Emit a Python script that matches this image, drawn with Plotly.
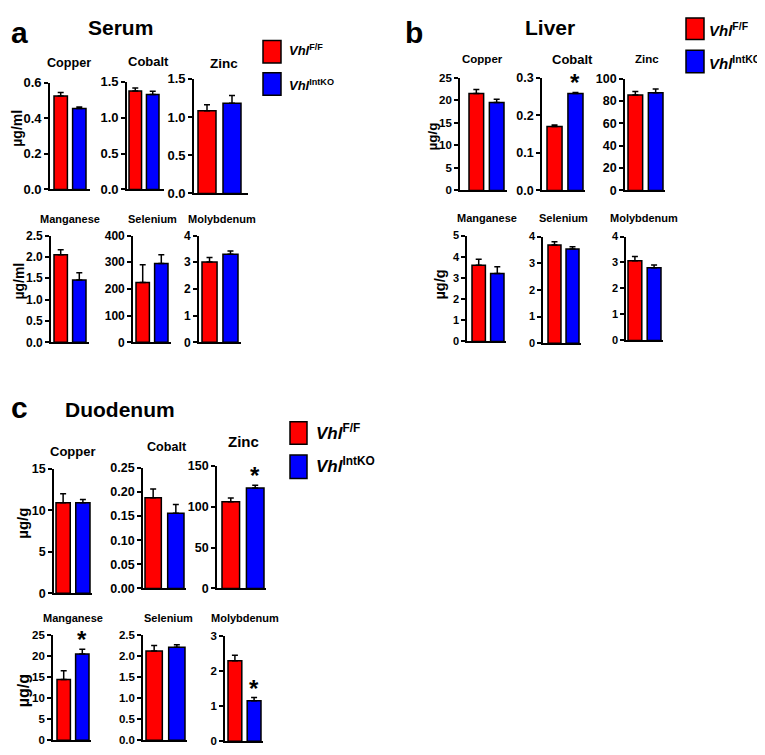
import plotly.graph_objects as go

W, H = 765, 755
OFF = 8  # the html page body has an 8px margin; reference pixels are shifted by it
FONT = "Liberation Sans, Arial, Helvetica, sans-serif"
RED, BLUE = "#ff0000", "#0000ff"
BW = 0.72

# ---------------- data ----------------
elements = ["Copper", "Cobalt", "Zinc", "Manganese", "Selenium", "Molybdenum"]
group_labels = ["<i>Vhl</i><sup>F/F</sup>", "<i>Vhl</i><sup>IntKO</sup>"]

serum_ff = [0.525, 1.37, 1.08, 2.05, 224, 3.01]
serum_ff_err = [0.02, 0.04, 0.08, 0.12, 67, 0.17]
serum_ko = [0.455, 1.32, 1.18, 1.46, 295, 3.30]
serum_ko_err = [0.008, 0.045, 0.10, 0.17, 33, 0.12]

liver_ff = [21.5, 0.170, 85.5, 3.60, 3.68, 3.07]
liver_ff_err = [0.9, 0.004, 3.0, 0.28, 0.12, 0.16]
liver_ko = [19.5, 0.258, 87.5, 3.21, 3.53, 2.80]
liver_ko_err = [0.75, 0.003, 3.2, 0.31, 0.09, 0.10]

duo_ff = [10.9, 0.188, 106, 14.5, 2.13, 2.30]
duo_ff_err = [1.1, 0.018, 4.5, 2.1, 0.13, 0.16]
duo_ko = [10.9, 0.156, 123, 20.6, 2.22, 1.16]
duo_ko_err = [0.4, 0.018, 3.2, 1.1, 0.06, 0.09]

liver_sig = [False, True, False, False, False, False]
duo_sig = [False, False, True, True, False, True]
serum_sig = [False] * 6

# axis scales
serum_ymax = [0.6, 1.5, 1.5, 2.5, 400, 4]
serum_dtick = [0.2, 0.5, 0.5, 0.5, 100, 1]
serum_fmt = [".1f", ".1f", ".1f", ".1f", "d", "d"]
liver_ymax = [25, 0.3, 100, 5, 4, 4]
liver_dtick = [5, 0.1, 20, 1, 1, 1]
liver_fmt = ["d", ".1f", "d", "d", "d", "d"]
duo_ymax = [15, 0.25, 150, 25, 2.5, 3]
duo_dtick = [5, 0.05, 50, 5, 0.5, 1]
duo_fmt = ["d", ".2f", "d", "d", ".1f", "d"]

# ---------------- geometry (reference pixels) ----------------
panels = [
    dict(name="Serum", letter="a", unit="µg/ml",
         ff=serum_ff, ffe=serum_ff_err, ko=serum_ko, koe=serum_ko_err, sig=serum_sig,
         ymax=serum_ymax, dtick=serum_dtick, fmt=serum_fmt,
         xa=[50, 127, 194, 51, 133, 199], xe=[90, 164, 248, 89, 171, 241],
         rl=[54, 129, 198, 54, 136, 202], br=[86, 159, 241, 86, 168, 238],
         yt=[77, 76, 73, 233, 233, 233], yb=[186, 186, 190, 342, 342, 342],
         tfs=[13, 13, 13, 12, 12, 12],
         titles=[(69, 57, 12.6), (148, 55, 13), (224, 57, 13.5), (70, 216, 11), (152, 216, 11), (222, 216, 11)],
         ytitles=[(17, 124, 14), (19, 280, 14)],
         head=(120, None, 21), let=(9, None),
         leg=dict(x0=263, x1=281, r=(34, 57), b=(67, 90), tx=287, ty=(44, 79), fs=13)),
    dict(name="Liver", letter="b", unit="µg/g",
         ff=liver_ff, ffe=liver_ff_err, ko=liver_ko, koe=liver_ko_err, sig=liver_sig,
         ymax=liver_ymax, dtick=liver_dtick, fmt=liver_fmt,
         xa=[460, 542, 625, 467, 543, 626], xe=[507, 585, 665, 506, 581, 663],
         rl=[469, 547, 628, 472, 548, 628], br=[504, 583, 663, 504, 579, 661],
         yt=[72, 72, 73, 233, 234, 234], yb=[187, 187, 187, 341, 343, 340],
         tfs=[11.5, 12.5, 12.5, 11, 11, 11],
         titles=[(482, 53, 11.5), (572, 53, 13), (647, 53, 11.5), (487, 215, 11), (563, 215, 11), (644, 215, 11)],
         ytitles=[(433, 132, 13.5), (440, 283, 14.5)],
         head=(550, None, 21), let=(404, None),
         leg=dict(x0=686, x1=704, r=(11, 33), b=(44, 67), tx=707, ty=(23, 56), fs=15)),
    dict(name="Duodenum", letter="c", unit="µg/g",
         ff=duo_ff, ffe=duo_ff_err, ko=duo_ko, koe=duo_ko_err, sig=duo_sig,
         ymax=duo_ymax, dtick=duo_dtick, fmt=duo_fmt,
         xa=[54, 143, 217, 53, 143, 225], xe=[92, 186, 266, 91, 187, 263],
         rl=[56, 145, 222, 57, 146, 228], br=[90, 184, 264, 89, 185, 261],
         yt=[471, 470, 468, 641, 641, 642], yb=[598, 593, 593, 748, 748, 749],
         tfs=[12.5, 12.5, 12.5, 11.5, 11.5, 11.5],
         titles=[(73, 453, 13), (167, 449, 12.6), (243, 443, 15), (73, 623, 11), (168, 623, 11), (245, 623, 11)],
         ytitles=[(23, 527, 15), (23, 698, 16)],
         head=(120, 411, 21), let=(10, 408),
         leg=dict(x0=290, x1=307, r=(423, 446), b=(457, 481), tx=314, ty=(433, 467), fs=17)),
]


def px(x):
    return (x - OFF) / W


def py(y):
    return 1 - (y - OFF) / H


fig = go.Figure()
layout = dict(width=W, height=H, margin=dict(l=0, r=0, t=0, b=0),
              paper_bgcolor="white", plot_bgcolor="white", showlegend=False,
              font=dict(family=FONT, color="black"))
annotations = []
shapes = []

k = 0
for p in panels:
    for i, el in enumerate(elements):
        k += 1
        sfx = "" if k == 1 else str(k)
        xn, yn = "x" + sfx, "y" + sfx
        xa, xe, rl, br = p["xa"][i], p["xe"][i], p["rl"][i], p["br"][i]
        yt, yb = p["yt"][i], p["yb"][i]
        s = (br - rl) / (1 + BW)
        lo = -BW / 2 - (rl - xa) / s
        hi = 1 + BW / 2 + (xe - br) / s
        fig.add_trace(go.Bar(
            x=[0, 1], y=[p["ff"][i], p["ko"][i]], width=BW,
            marker=dict(color=[RED, BLUE], line=dict(color="black", width=1.5)),
            error_y=dict(type="data", symmetric=False,
                         array=[p["ffe"][i], p["koe"][i]], arrayminus=[0, 0],
                         color="black", thickness=1.5, width=3),
            xaxis=xn, yaxis=yn, hoverinfo="skip"))
        layout["xaxis" + sfx] = dict(
            domain=[px(xa), px(xe)], range=[lo, hi], anchor=yn,
            showline=True, linecolor="black", linewidth=1.6,
            showticklabels=False, ticks="", showgrid=False, zeroline=False,
            fixedrange=True)
        layout["yaxis" + sfx] = dict(
            domain=[py(yb), py(yt)], range=[0, p["ymax"][i]], tick0=0,
            dtick=p["dtick"][i], tickformat=p["fmt"][i], anchor=xn,
            showline=True, linecolor="black", linewidth=1.6,
            ticks="outside", ticklen=4, tickwidth=1.5, tickcolor="black",
            tickfont=dict(size=p["tfs"][i], weight="bold", family=FONT),
            showgrid=False, zeroline=False, fixedrange=True)
        tx, ty, tsz = p["titles"][i]
        annotations.append(dict(x=px(tx), y=py(ty), xref="paper", yref="paper",
                                text=el, showarrow=False,
                                xanchor="center", yanchor="middle",
                                font=dict(size=tsz, family=FONT, weight="bold")))
        if p["sig"][i]:
            annotations.append(dict(x=1, y=p["ko"][i] + p["koe"][i], xref=xn, yref=yn,
                                    text="*", showarrow=False,
                                    xanchor="center", yanchor="bottom", yshift=-6,
                                    font=dict(size=24, family=FONT, weight="bold")))
    # y-axis titles
    for (ux, uy, us) in p["ytitles"]:
        annotations.append(dict(x=px(ux), y=py(uy), xref="paper", yref="paper",
                                text=p["unit"], showarrow=False,
                                textangle=-90, xanchor="center", yanchor="middle",
                                font=dict(size=us, family=FONT, weight="bold")))
    # heading and panel letter (top ones are pinned to the top edge)
    hx, hy, hs = p["head"]
    annotations.append(dict(x=px(hx), y=1.0 if hy is None else py(hy),
                            xref="paper", yref="paper",
                            text=p["name"], showarrow=False,
                            xanchor="center", yanchor="top" if hy is None else "middle",
                            borderpad=0, font=dict(size=hs, family=FONT, weight="bold")))
    lx, ly = p["let"]
    annotations.append(dict(x=max(px(lx), 0.003), y=1.0 if ly is None else py(ly),
                            xref="paper", yref="paper",
                            text=p["letter"], showarrow=False,
                            xanchor="left", yanchor="top" if ly is None else "middle",
                            borderpad=0, font=dict(size=30, family=FONT, weight="bold")))
    # legend
    lg = p["leg"]
    for (y0, y1), col, lab, tyy in [(lg["r"], RED, group_labels[0], lg["ty"][0]),
                                    (lg["b"], BLUE, group_labels[1], lg["ty"][1])]:
        shapes.append(dict(type="rect", xref="paper", yref="paper",
                           x0=px(lg["x0"]), x1=px(lg["x1"]), y0=py(y1), y1=py(y0),
                           fillcolor=col, line=dict(color="black", width=1.5)))
        annotations.append(dict(x=px(lg["tx"]), y=py(tyy), xref="paper", yref="paper",
                                text=lab, showarrow=False, xanchor="left", yanchor="middle",
                                font=dict(size=lg["fs"], family=FONT, weight="bold")))

layout["annotations"] = annotations
layout["shapes"] = shapes
fig.update_layout(**layout)
fig.write_html("out.html")
